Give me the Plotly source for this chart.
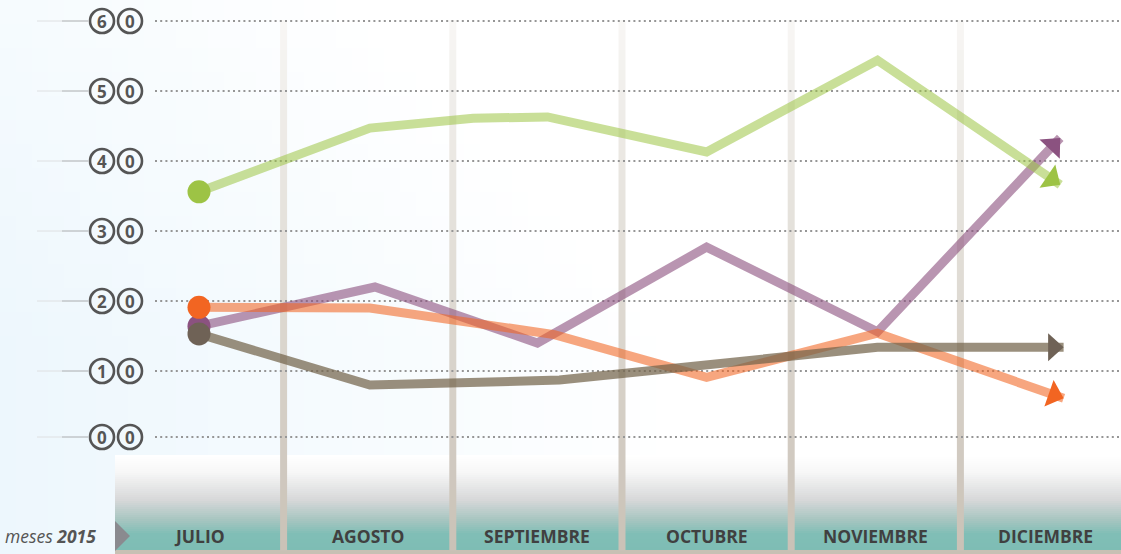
import math
import plotly.graph_objects as go

# ---------------- data ----------------
months = ["JULIO", "AGOSTO", "SEPTIEMBRE", "OCTUBRE", "NOVIEMBRE", "DICIEMBRE"]
tick_vals = [0.57, 10, 20, 30, 40, 50, 60]
tick_digits = [("0", "0"), ("1", "0"), ("2", "0"), ("3", "0"), ("4", "0"), ("5", "0"), ("6", "0")]

green_x = [0.0, 1.01, 1.62, 2.06, 3.0, 4.01, 5.09]
green_y = [35.6, 44.7, 46.1, 46.3, 41.3, 54.4, 36.6]

orange_x = [0.0, 1.01, 2.10, 3.0, 4.01, 5.11]
orange_y = [19.1, 19.0, 15.2, 9.1, 15.4, 6.1]

purple_x = [0.0, 1.04, 2.0, 3.0, 4.01, 5.09]
purple_y = [16.4, 22.0, 14.0, 27.7, 15.6, 43.3]

brown_x = [0.0, 1.01, 2.13, 3.0, 4.01, 5.11]
brown_y = [15.3, 8.0, 8.7, 11.0, 13.4, 13.4]

# ---------------- layout helpers ----------------
W, H = 1121, 554
X0, XS = 199.0, 169.2      # pixel of first month centre, month spacing
Y0, YS = 441.0, 7.0        # pixel of value 0, pixels per unit


def px(x):
    return x / W


def py(y):
    return 1 - y / H


def mix(c1, c2, t):
    t = max(0.0, min(1.0, t))
    return "rgb(%d,%d,%d)" % tuple(round(a + (b - a) * t) for a, b in zip(c1, c2))


shapes = []

# background light-blue gradient (bottom-left)
cw, ch = 16, 24
for gx in range(0, 720, cw):
    for gy in range(0, 560, ch):
        cx, cy = gx + cw / 2, gy + ch / 2
        f = 1 - cx / 680 - max(0, 340 - cy) / 700
        if f <= 0:
            continue
        shapes.append(dict(type="rect", xref="paper", yref="paper", layer="below",
                           x0=px(gx), x1=px(min(gx + cw, W)),
                           y0=py(min(gy + ch, H)), y1=py(gy),
                           fillcolor=mix((255, 255, 255), (237, 247, 253), f),
                           line=dict(width=0)))

# bottom band gradient (white -> grey -> teal)
stops = [(455, (255, 255, 255)), (472, (247, 247, 247)), (500, (215, 216, 217)),
         (520, (166, 197, 192)), (534, (128, 190, 182)), (551, (126, 189, 180))]
step = 2
for y in range(455, 551, step):
    yc = y + step / 2
    for (ya, ca), (yb, cb) in zip(stops[:-1], stops[1:]):
        if ya <= yc <= yb:
            col = mix(ca, cb, (yc - ya) / (yb - ya))
            break
    shapes.append(dict(type="rect", xref="paper", yref="paper", layer="below",
                       x0=px(115), x1=px(W), y0=py(y + step), y1=py(y),
                       fillcolor=col, line=dict(width=0)))

# tan bottom line
shapes.append(dict(type="rect", xref="paper", yref="paper", layer="below",
                   x0=px(115), x1=px(W), y0=py(554), y1=py(550),
                   fillcolor="rgb(200,192,180)", line=dict(width=0)))

# vertical separators (gradient from faint to tan)
for k in range(5):
    xc = X0 + XS * (k + 0.5)
    seg = 10
    for y in range(20, 551, seg):
        t = (y - 20) / 530
        col = mix((248, 247, 245), (201, 193, 182), t ** 0.9)
        shapes.append(dict(type="rect", xref="paper", yref="paper", layer="below",
                           x0=px(xc - 3.5), x1=px(xc + 3.5),
                           y0=py(min(y + seg, 551)), y1=py(y),
                           fillcolor=col, line=dict(width=0)))

# dotted grid lines and left tick strokes
for v in tick_vals:
    yy = Y0 - v * YS
    shapes.append(dict(type="line", xref="paper", yref="paper", layer="below",
                       x0=px(155), x1=px(W), y0=py(yy), y1=py(yy),
                       line=dict(color="rgb(150,150,150)", width=2, dash="2px,3.2px")))
    shapes.append(dict(type="line", xref="paper", yref="paper", layer="below",
                       x0=px(37), x1=px(62), y0=py(yy), y1=py(yy),
                       line=dict(color="rgb(222,224,226)", width=1)))
    shapes.append(dict(type="line", xref="paper", yref="paper", layer="below",
                       x0=px(62), x1=px(88), y0=py(yy), y1=py(yy),
                       line=dict(color="rgb(170,172,174)", width=1)))
    # circles around the tick digits
    for cxp in (102, 130):
        shapes.append(dict(type="circle", xref="paper", yref="paper", layer="above",
                           x0=px(cxp - 12), x1=px(cxp + 12), y0=py(yy + 12), y1=py(yy - 12),
                           line=dict(color="rgb(85,85,85)", width=2.6), fillcolor="rgba(0,0,0,0)"))

# grey triangle pointer in front of the month band
shapes.append(dict(type="path", xref="paper", yref="paper", layer="below",
                   path="M %f,%f L %f,%f L %f,%f Z" % (px(115), py(521), px(130), py(536), px(115), py(551)),
                   fillcolor="rgb(138,138,143)", line=dict(width=0)))

# ---------------- traces ----------------
fig = go.Figure()

ARROW_LEN, ARROW_HALF = 15.5, 14.0


def arrow_head(xs, ys, color):
    # tip at the last data point, pointing along the last segment (computed in pixels)
    tx, ty = X0 + XS * xs[-1], Y0 - YS * ys[-1]
    sx, sy = X0 + XS * xs[-2], Y0 - YS * ys[-2]
    d = math.hypot(tx - sx, ty - sy)
    ux, uy = (tx - sx) / d, (ty - sy) / d
    bx, by = tx - ux * ARROW_LEN, ty - uy * ARROW_LEN
    nx, ny = -uy, ux
    pts = [(tx, ty), (bx + nx * ARROW_HALF, by + ny * ARROW_HALF),
           (bx - nx * ARROW_HALF, by - ny * ARROW_HALF)]
    path = "M %f,%f L %f,%f L %f,%f Z" % tuple(v for p in pts for v in (px(p[0]), py(p[1])))
    return dict(type="path", xref="paper", yref="paper", layer="above",
                path=path, fillcolor=color, line=dict(width=0))


def add_series(xs, ys, line_col, mark_col):
    fig.add_trace(go.Scatter(
        x=xs, y=ys, mode="lines",
        line=dict(color=line_col, width=9, backoff=10),
        hoverinfo="skip", showlegend=False, cliponaxis=False))
    # start dot
    fig.add_trace(go.Scatter(
        x=xs[:1], y=ys[:1], mode="markers",
        marker=dict(size=23, symbol="circle", color=mark_col, line=dict(width=0)),
        hoverinfo="skip", showlegend=False, cliponaxis=False))
    shapes.append(arrow_head(xs, ys, mark_col))


add_series(purple_x, purple_y, "rgba(138,79,125,0.6)", "rgb(139,82,128)")
add_series(orange_x, orange_y, "rgba(242,101,34,0.58)", "rgb(242,101,34)")
add_series(brown_x, brown_y, "rgba(115,100,75,0.72)", "rgb(111,98,86)")
add_series(green_x, green_y, "rgba(156,196,68,0.55)", "rgb(157,195,69)")

# ---------------- annotations ----------------
annotations = []
for v, (d1, d2) in zip(tick_vals, tick_digits):
    for cxp, d in ((102, d1), (130, d2)):
        annotations.append(dict(xref="paper", yref="paper", x=px(cxp), y=py(Y0 - v * YS + 0.5),
                                text="<b>%s</b>" % d, showarrow=False,
                                xanchor="center", yanchor="middle",
                                font=dict(family="Open Sans", size=17, color="rgb(85,85,85)")))

for i, m in enumerate(months):
    annotations.append(dict(xref="x", yref="paper", x=i, y=py(535.5),
                            text="<b>%s</b>" % m, showarrow=False,
                            xanchor="center", yanchor="middle",
                            font=dict(family="Open Sans", size=17.5, color="rgb(64,64,64)")))

annotations.append(dict(xref="paper", yref="paper", x=px(98), y=py(536),
                        text="<i>meses <b>2015</b></i>", showarrow=False,
                        xanchor="right", yanchor="middle",
                        font=dict(family="Open Sans", size=17.5, color="rgb(85,85,85)")))

fig.update_layout(
    width=W, height=H,
    margin=dict(l=0, r=0, t=0, b=0, pad=0),
    paper_bgcolor="white", plot_bgcolor="rgba(0,0,0,0)",
    xaxis=dict(range=[(0 - X0) / XS, (W - X0) / XS], visible=False, fixedrange=True),
    yaxis=dict(range=[(Y0 - H) / YS, Y0 / YS], visible=False, fixedrange=True),
    shapes=shapes, annotations=annotations,
    showlegend=False,
)

fig.write_html("out.html", config={"displayModeBar": False},
               post_script="document.body.style.margin='0';")
